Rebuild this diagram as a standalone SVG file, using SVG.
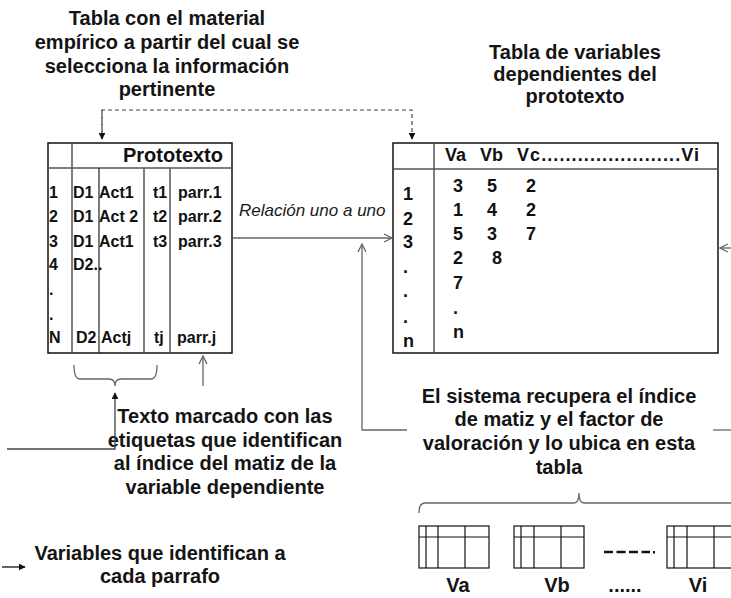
<svg xmlns="http://www.w3.org/2000/svg" width="731" height="598" viewBox="0 0 731 598">
<defs>
<style>
.t{font-family:"Liberation Sans",Arial,sans-serif;font-weight:bold;font-size:20px;fill:#141414;text-anchor:middle}
.c{font-family:"Liberation Sans",Arial,sans-serif;font-weight:bold;font-size:16px;fill:#111}
.r{font-family:"Liberation Sans",Arial,sans-serif;font-weight:bold;font-size:18px;fill:#111}
.i{font-family:"Liberation Sans",Arial,sans-serif;font-style:italic;font-size:17px;fill:#1a1a1a}
.box{fill:none;stroke:#111;stroke-width:1.5}
.in{fill:none;stroke:#555;stroke-width:1.5}
.ln{fill:none;stroke:#666;stroke-width:1.3}
.bk{fill:none;stroke:#222;stroke-width:1.2}
.sm{fill:none;stroke:#111;stroke-width:1.2}
</style>
<marker id="fa" viewBox="0 0 10 10" refX="9" refY="5" markerWidth="7" markerHeight="7" markerUnits="userSpaceOnUse" orient="auto"><path d="M0,0 L10,5 L0,10 z" fill="#111"/></marker>
<marker id="oa" viewBox="0 0 10 10" refX="9" refY="5" markerWidth="10" markerHeight="10" markerUnits="userSpaceOnUse" orient="auto"><path d="M1,1 L9,5 L1,9" fill="none" stroke="#666" stroke-width="1.3"/></marker>
</defs>
<rect width="731" height="598" fill="#fff"/>

<g id="title-material">
<text class="t" x="167" y="25">Tabla con el material</text>
<text class="t" x="167" y="49">empírico a partir del cual se</text>
<text class="t" x="167" y="73">selecciona la información</text>
<text class="t" x="167" y="96">pertinente</text>
</g>

<g id="title-variables">
<text class="t" x="575" y="59">Tabla de variables</text>
<text class="t" x="575" y="81">dependientes del</text>
<text class="t" x="575" y="103">prototexto</text>
</g>

<g id="tabla-prototexto">
<rect class="box" x="48" y="143" width="184" height="210"/>
<line class="in" x1="48" y1="168" x2="232" y2="168"/>
<line class="in" x1="72" y1="143" x2="72" y2="353"/>
<line class="bk" x1="99" y1="168" x2="99" y2="353"/>
<line class="in" x1="144" y1="168" x2="144" y2="353"/>
<line class="in" x1="170" y1="168" x2="170" y2="353"/>
<text class="r" style="font-size:20px" x="223" y="162" text-anchor="end">Prototexto</text>
<text class="c" x="49" y="198">1</text><text class="c" x="73" y="198">D1</text><text class="c" x="99" y="198">Act1</text><text class="c" x="153" y="198">t1</text><text class="c" x="178" y="198">parr.1</text>
<text class="c" x="49" y="222">2</text><text class="c" x="73" y="222">D1</text><text class="c" x="99" y="222">Act 2</text><text class="c" x="153" y="222">t2</text><text class="c" x="178" y="222">parr.2</text>
<text class="c" x="49" y="247">3</text><text class="c" x="73" y="247">D1</text><text class="c" x="99" y="247">Act1</text><text class="c" x="153" y="247">t3</text><text class="c" x="178" y="247">parr.3</text>
<text class="c" x="49" y="270">4</text><text class="c" x="73" y="270">D2..</text>
<text class="c" x="49" y="295">.</text>
<text class="c" x="49" y="320">.</text>
<text class="c" x="49" y="343">N</text><text class="c" x="76" y="343">D2</text><text class="c" x="101" y="343">Actj</text><text class="c" x="154" y="343">tj</text><text class="c" x="177" y="343">parr.j</text>
</g>

<g id="tabla-variables">
<rect class="box" x="393" y="143" width="325" height="210"/>
<line class="in" x1="393" y1="169" x2="718" y2="169"/>
<line class="in" x1="434" y1="143" x2="434" y2="353"/>
<text class="r" x="445" y="161">Va</text>
<text class="r" x="480" y="161">Vb</text>
<text class="r" x="517" y="161" textLength="182" lengthAdjust="spacing">Vc.......................Vi</text>
<text class="r" x="403" y="200">1</text>
<text class="r" x="403" y="225">2</text>
<text class="r" x="403" y="248">3</text>
<text class="r" x="403" y="273">.</text>
<text class="r" x="403" y="297">.</text>
<text class="r" x="403" y="323">.</text>
<text class="r" x="403" y="347">n</text>
<text class="r" x="453" y="192">3</text><text class="r" x="487" y="192">5</text><text class="r" x="526" y="192">2</text>
<text class="r" x="453" y="216">1</text><text class="r" x="487" y="216">4</text><text class="r" x="526" y="216">2</text>
<text class="r" x="453" y="240">5</text><text class="r" x="487" y="240">3</text><text class="r" x="526" y="240">7</text>
<text class="r" x="453" y="264">2</text><text class="r" x="492" y="264">8</text>
<text class="r" x="453" y="289">7</text>
<text class="r" x="453" y="314">.</text>
<text class="r" x="453" y="338">n</text>
</g>

<g id="label-relacion">
<text class="i" x="239" y="216">Relación uno a uno</text>
</g>

<g id="texto-marcado">
<text class="t" x="225" y="423">Texto marcado con las</text>
<text class="t" x="225" y="447">etiquetas que identifican</text>
<text class="t" x="225" y="470">al índice del matiz de la</text>
<text class="t" x="225" y="494">variable dependiente</text>
</g>

<g id="sistema-recupera">
<text class="t" x="559" y="403">El sistema recupera el índice</text>
<text class="t" x="559" y="426">de matiz y el factor de</text>
<text class="t" x="559" y="450">valoración y lo ubica en esta</text>
<text class="t" x="559" y="474">tabla</text>
</g>

<g id="variables-parrafo">
<text class="t" x="160" y="560">Variables que identifican a</text>
<text class="t" x="160" y="583">cada parrafo</text>
</g>

<g id="tabla-Va">
<rect class="sm" x="419" y="526" width="70" height="42"/>
<line class="sm" x1="419" y1="537" x2="489" y2="537"/>
<line class="sm" x1="426" y1="526" x2="426" y2="568"/>
<line class="sm" x1="438" y1="526" x2="438" y2="568"/>
<line class="sm" x1="465" y1="526" x2="465" y2="568"/>
<text class="t" x="458" y="592">Va</text>
</g>
<g id="tabla-Vb">
<rect class="sm" x="514" y="526" width="70" height="42"/>
<line class="sm" x1="514" y1="537" x2="584" y2="537"/>
<line class="sm" x1="521" y1="526" x2="521" y2="568"/>
<line class="sm" x1="534" y1="526" x2="534" y2="568"/>
<line class="sm" x1="561" y1="526" x2="561" y2="568"/>
<text class="t" x="557" y="592">Vb</text>
</g>
<g id="tabla-Vi">
<rect class="sm" x="667" y="526" width="70" height="42"/>
<line class="sm" x1="667" y1="537" x2="737" y2="537"/>
<line class="sm" x1="674" y1="526" x2="674" y2="568"/>
<line class="sm" x1="687" y1="526" x2="687" y2="568"/>
<line class="sm" x1="714" y1="526" x2="714" y2="568"/>
<text class="t" x="698" y="592">Vi</text>
</g>
<g id="puntos">
<line x1="604" y1="552" x2="650" y2="552" stroke="#111" stroke-width="2.5" stroke-dasharray="9,3.5"/>
<rect x="653" y="551" width="2" height="2.5" fill="#111"/>
<text class="t" x="625" y="592">......</text>
</g>

<g id="connectors">
<path d="M102,139 V110 H412 V139" fill="none" stroke="#444" stroke-width="1.2" stroke-dasharray="4,3" marker-end="url(#fa)"/>
<path d="M102,110 V139" fill="none" stroke="#444" stroke-width="1.2" stroke-dasharray="4,3" marker-end="url(#fa)"/>
<path d="M233,238 H392" class="ln" marker-end="url(#oa)"/>
<path d="M407,430 H362 V244" class="ln" marker-end="url(#oa)"/>
<path d="M713,430 H731" class="ln"/>
<path d="M731,248 H720" class="ln" marker-end="url(#oa)"/>
<path d="M203,386 V356" class="ln" marker-end="url(#oa)"/>
<path d="M74,365 Q74,379 80,379 H109 Q115,379 115,386 Q115,379 121,379 H151 Q157,379 157,365" class="ln"/>
<path d="M7,449 H115 V393" fill="none" stroke="#444" stroke-width="1.3" marker-end="url(#fa)"/>
<path d="M419,513 Q419,503 425,503 H574 Q579,503 579,493 Q579,503 584,503 H731" class="ln"/>
<path d="M2,567 H25" fill="none" stroke="#111" stroke-width="1.3" marker-end="url(#fa)"/>
</g>
</svg>
